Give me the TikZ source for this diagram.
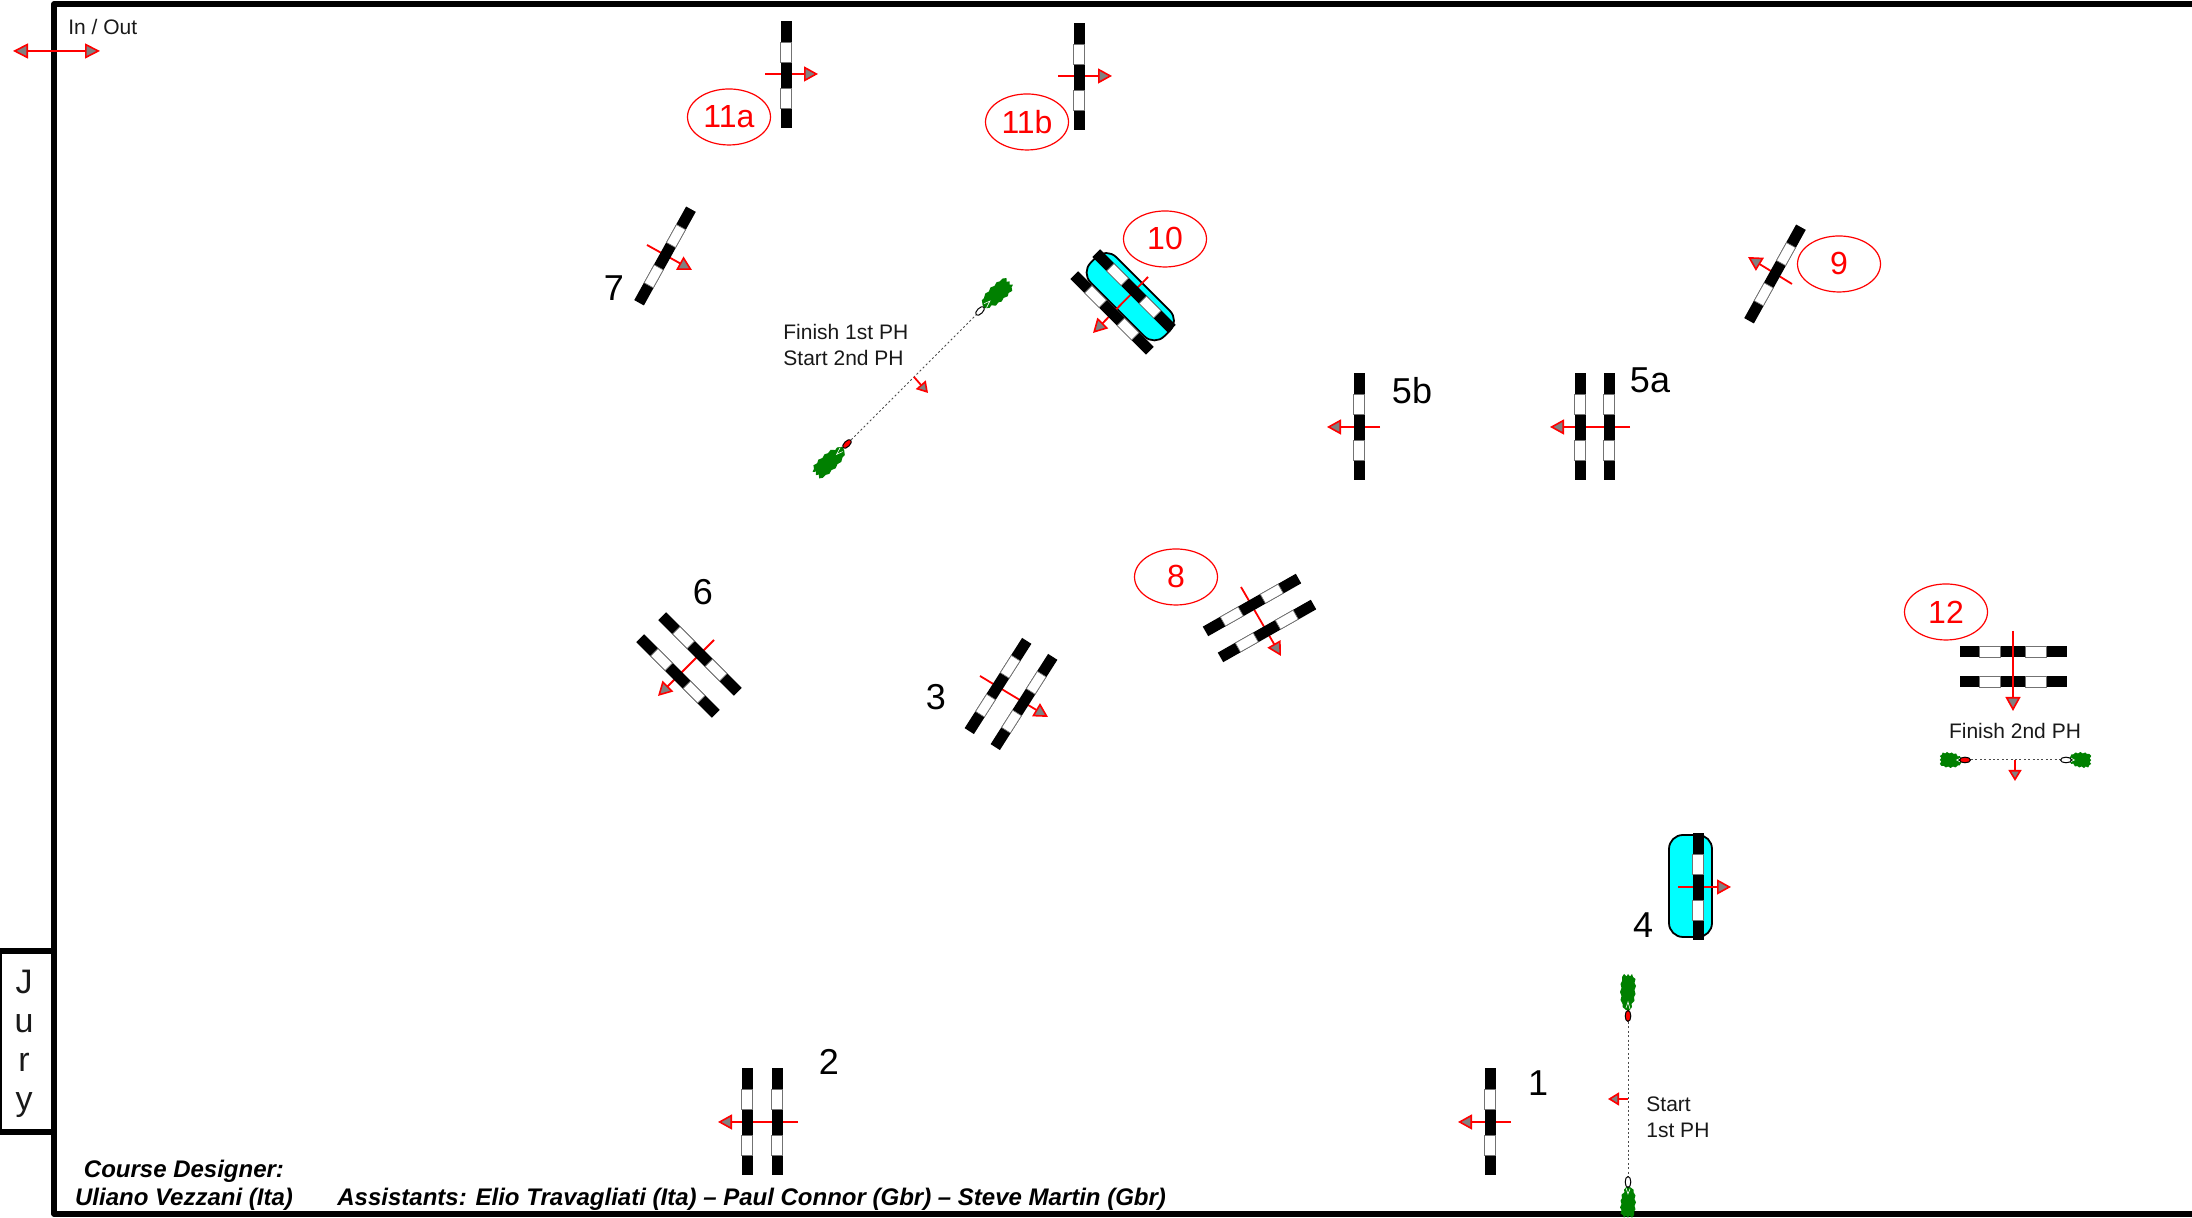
\documentclass[tikz,border=0pt]{standalone}
\usepackage{fontspec}
\setmainfont{Liberation Sans}
\usetikzlibrary{arrows.meta,shapes.geometric}
\definecolor{cy}{RGB}{0,255,255}
\definecolor{bushgreen}{RGB}{0,128,0}
\tikzset{
  x=0.5pt,y=0.5pt,
  frameline/.style={draw=black,line width=2.75pt,line join=round},
  redflow/.style={draw=red,line width=0.9pt,-{Triangle[length=7pt,width=7.5pt,fill=gray,line width=0.8pt]}},
  redsmall/.style={draw=red,line width=0.9pt,-{Triangle[length=5.5pt,width=6.5pt,fill=gray,line width=0.8pt]}},
  redboth/.style={draw=red,line width=0.9pt,{Triangle[length=7.5pt,width=7.5pt,fill=gray,line width=0.8pt]}-{Triangle[length=7.5pt,width=7.5pt,fill=gray,line width=0.8pt]}},
  blacklabel/.style={font=\fontsize{18}{20}\selectfont,text=black,inner sep=0pt},
  redlabel/.style={ellipse,draw=red,line width=0.6pt,fill=white,minimum width=41.5pt,minimum height=28pt,inner sep=0pt,font=\fontsize{16}{18}\selectfont,text=red},
  smalltext/.style={font=\fontsize{10.5}{13}\selectfont,inner sep=0pt,align=left,text=black!90},
  creditstext/.style={font=\fontsize{12}{15}\selectfont\bfseries\itshape,inner sep=0pt,text=black},
  flagoval/.style={ellipse,draw=black,line width=0.5pt,minimum width=5.5pt,minimum height=2.8pt,inner sep=0pt},
  startline/.style={draw=black!70,line width=0.5pt,dash pattern=on 1pt off 1.2pt},
  bar/.style={fill=black},
  barwhite/.style={fill=white,draw=black!55,line width=0.35pt},
  waterbox/.style={fill=cy,draw=black,line width=0.9pt,rounded corners=7pt},
}
\newcommand{\fence}[3]{%
  \begin{scope}[shift={(#1,1218-#2)},rotate=#3]
    \path[bar] (-53.5,-5.5) rectangle (53.5,5.5);
    \path[barwhite] (-33.5,-5.2) rectangle (-13,5.2);
    \path[barwhite] (12.5,-5.2) rectangle (33,5.2);
  \end{scope}}
\newcommand{\bush}[5]{%
  \begin{scope}[shift={(#1,1218-#2)},rotate=#3,xscale=#4,yscale=#5]
    \fill[bushgreen] (-5,1)--(-9,4)--(-12,3.5)--(-15,6.5)--(-19,6)--(-22,7.5)--(-26,6.5)--(-30,8)--(-33,6.5)--(-37,7.5)--(-39,5)--(-42,4)--(-39.5,2)--(-42,0)--(-39.5,-1.5)--(-42,-4)--(-39,-6)--(-35,-6)--(-32,-7.5)--(-28,-6.5)--(-24,-8)--(-20,-6.5)--(-16,-7.5)--(-12,-5.5)--(-9,-5.5)--(-6,-2)--cycle;
    \draw[white,line width=0.3pt] (-7,2)--(-14,0)--(-8,-2);
  \end{scope}}
\newcommand{\flag}[7]{%
  \bush{#2}{#3}{#4}{#6}{#7}
  \node[flagoval,fill=#5,rotate=#4] (#1) at (#2,1218-#3) {};}
\newcommand{\flow}[6]{%
  \coordinate (#2a) at (#3,1218-#4);
  \coordinate (#2b) at (#5,1218-#6);
  \draw[#1] (#2a) -- (#2b);}
\begin{document}
\begin{tikzpicture}
\useasboundingbox (0,0) rectangle (2192,1218);
% frame
\draw[frameline] (2200,1218-4) -- (54,1218-4) -- (54,1218-1214) -- (2200,1218-1214);
\draw[frameline] (-1,1218-951) rectangle (54,1218-1132);
\node[font=\fontsize{17}{19.4}\selectfont,align=center,inner sep=0pt,text=black!90] (jury) at (24,1218-1044) {J\\u\\r\\y};
% in out
\flow{redboth}{io}{13}{51}{100}{51}
\node[smalltext,anchor=west] (inout) at (68,1218-27) {In / Out};
% water
\begin{scope}[shift={(1131,1218-296)},rotate=-45]
  \path[waterbox] (-52,-19) rectangle (52,17);
\end{scope}
\path[waterbox] (1669,1218-835) rectangle (1712,1218-937);
% red arrows under fences
\flow{redflow}{aten}{1148}{277}{1093}{333}
\flow{redflow}{asix}{714}{640}{658}{696}
\flow{redflow}{athree}{980}{676}{1048}{717}
\flow{redflow}{aeight}{1241}{587}{1281}{656}
\flow{redflow}{aseven}{647}{245}{692}{270}
\flow{redflow}{anine}{1792}{284}{1748}{257}
\flow{redflow}{aelevena}{765}{74}{818}{74}
\flow{redflow}{aelevenb}{1058}{76}{1112}{76}
\flow{redflow}{afiveb}{1380}{427}{1327}{427}
\flow{redflow}{afivea}{1630}{427}{1550}{427}
\flow{redflow}{atwo}{798}{1122}{718}{1122}
\flow{redflow}{aone}{1511}{1122}{1458}{1122}
\flow{redflow}{afour}{1678}{887}{1731}{887}
% fences
\fence{786}{75}{90}
\fence{1079}{77}{90}
\fence{665}{256}{61}
\fence{1112}{313}{-45}
\fence{1134}{291}{-45}
\fence{1775}{274}{61}
\fence{1359}{427}{90}
\fence{1580}{427}{90}
\fence{1609}{427}{90}
\fence{1252}{605}{29.6}
\fence{1267}{631}{29.6}
\fence{700}{654}{-45}
\fence{678}{676}{-45}
\fence{998}{686}{57.5}
\fence{1024}{702}{57.5}
\fence{747}{1122}{90}
\fence{777}{1122}{90}
\fence{1490}{1122}{90}
\fence{1698}{887}{90}
\fence{2013}{652}{0}
\fence{2013}{682}{0}
% red arrow over fences
\flow{redflow}{atwelve}{2013}{631}{2013}{711}
% black numbers
\node[blacklabel] (n7) at (614,1218-288) {7};
\node[blacklabel] (n6) at (703,1218-592) {6};
\node[blacklabel] (n3) at (936,1218-697) {3};
\node[blacklabel] (n5b) at (1412,1218-391) {5b};
\node[blacklabel] (n5a) at (1650,1218-380) {5a};
\node[blacklabel] (n2) at (829,1218-1062) {2};
\node[blacklabel] (n1) at (1538,1218-1083) {1};
\node[blacklabel] (n4) at (1643,1218-925) {4};
% red labels
\node[redlabel] (l11a) at (729,1218-117) {11a};
\node[redlabel] (l11b) at (1027,1218-122) {11b};
\node[redlabel] (l10) at (1165,1218-239) {10};
\node[redlabel] (l9) at (1839,1218-264) {9};
\node[redlabel] (l8) at (1176,1218-577) {8};
\node[redlabel] (l12) at (1946,1218-612) {12};
% start lines
\flag{sr}{1628}{1016}{-90}{red}{1}{1}
\flag{sw}{1628}{1182}{90}{white}{0.85}{1}
\draw[startline] (sr) -- (sw);
\flow{redsmall}{astart}{1628}{1099}{1608}{1099}
\node[smalltext,anchor=west] (tstart) at (1646,1218-1117) {Start\\1st PH};
\flag{fw}{980}{311}{225}{white}{1}{1.15}
\flag{fr}{847}{444}{45}{red}{1.05}{1.15}
\draw[startline] (fr) -- (fw);
\flow{redsmall}{afinish}{914}{377}{928}{393}
\node[smalltext,anchor=west] (tfinish) at (783,1218-345) {Finish 1st PH\\Start 2nd PH};
\flag{er}{1965}{760}{0}{red}{0.6}{1}
\flag{ew}{2066}{760}{180}{white}{0.6}{1}
\draw[startline] (er) -- (ew);
\flow{redsmall}{aend}{2015}{760}{2015}{781}
\node[smalltext] (tend) at (2015,1218-731) {Finish 2nd PH};
% credits
\node[creditstext] (c1) at (184,1218-1171) {Course Designer:};
\node[creditstext] (c2) at (184,1218-1199) {Uliano Vezzani (Ita)};
\node[creditstext,anchor=west] (c3) at (337,1218-1199) {Assistants: Elio Travagliati (Ita) – Paul Connor (Gbr) – Steve Martin (Gbr)};
\end{tikzpicture}
\end{document}
